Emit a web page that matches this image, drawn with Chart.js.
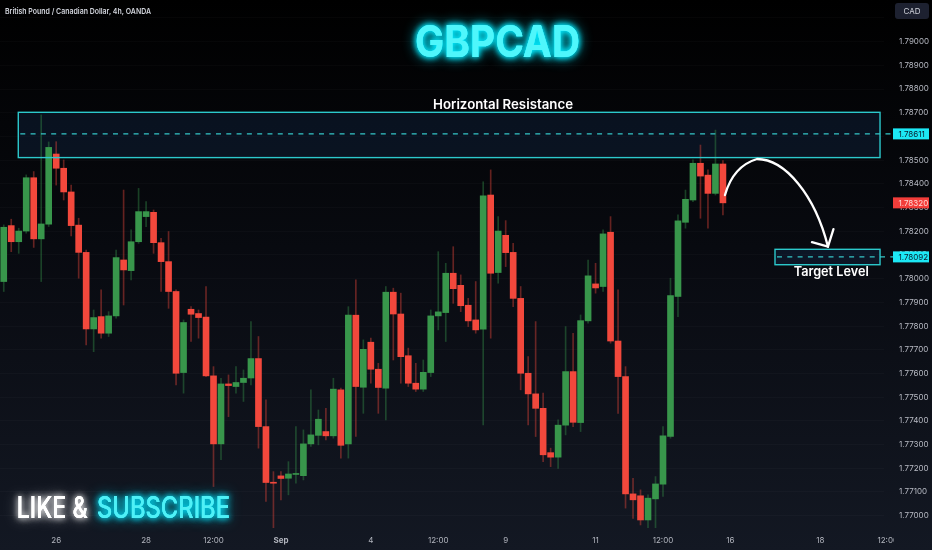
<!DOCTYPE html>
<html>
<head>
<meta charset="utf-8">
<title>GBPCAD 4h</title>
<script src="https://cdn.jsdelivr.net/npm/chart.js@4.4.1/dist/chart.umd.min.js"></script>
<style>
  html, body { margin: 0; padding: 0; background: #000; }
  #wrap { width: 932px; height: 550px; }
</style>
</head>
<body>
<div id="wrap"><canvas id="gbpcad" width="932" height="550"></canvas></div>
<script>
// GBPCAD 4h candles, 23 Aug - 13 Sep (OANDA)
const opens = [
  1.77988, 1.78224, 1.78156, 1.78201, 1.78426, 1.78168, 1.78230, 1.78526, 1.78466, 1.78366,
  1.78226, 1.78111, 1.77788, 1.77840, 1.77770, 1.77843, 1.78079, 1.78034, 1.78156, 1.78262,
  1.78280, 1.78152, 1.78072, 1.77946, 1.77604, 1.77871, 1.77853, 1.77838, 1.77590, 1.77303,
  1.77556, 1.77545, 1.77562, 1.77581, 1.77663, 1.77376, 1.77140, 1.77168, 1.77158, 1.77174,
  1.77169, 1.77303, 1.77339, 1.77355, 1.77337, 1.77531, 1.77303, 1.77846, 1.77542, 1.77732,
  1.77618, 1.77538, 1.77943, 1.77851, 1.77675, 1.77559, 1.77534, 1.77604, 1.77843, 1.77857,
  1.78023, 1.77972, 1.77888, 1.77826, 1.77787, 1.78353, 1.78026, 1.78183, 1.78111, 1.77917,
  1.77601, 1.77514, 1.77453, 1.77266, 1.77247, 1.77382, 1.77608, 1.77393, 1.77822, 1.77978,
  1.77967, 1.78196, 1.77737, 1.77587, 1.77092, 1.77084, 1.76982, 1.77071, 1.77133, 1.77334,
  1.77925, 1.78238, 1.78332, 1.78487, 1.78437, 1.78360, 1.78484
];
const highs = [
  1.78227, 1.78251, 1.78213, 1.78438, 1.78452, 1.78691, 1.78577, 1.78578, 1.78501, 1.78395,
  1.78255, 1.78121, 1.77868, 1.77953, 1.77861, 1.78121, 1.78374, 1.78206, 1.78381, 1.78325,
  1.78290, 1.78170, 1.78199, 1.77953, 1.77826, 1.77882, 1.77868, 1.77967, 1.77629, 1.77580,
  1.77594, 1.77629, 1.77615, 1.77819, 1.77756, 1.77489, 1.77186, 1.77186, 1.77228, 1.77376,
  1.77362, 1.77531, 1.77446, 1.77453, 1.77580, 1.77538, 1.77882, 1.77995, 1.77742, 1.77749,
  1.77643, 1.77967, 1.77960, 1.77939, 1.77707, 1.77643, 1.77657, 1.77868, 1.78114, 1.78065,
  1.78135, 1.78016, 1.77917, 1.77988, 1.78409, 1.78459, 1.78262, 1.78245, 1.78149, 1.77967,
  1.77671, 1.77819, 1.77517, 1.77285, 1.77404, 1.77798, 1.77770, 1.77847, 1.78079, 1.78065,
  1.78206, 1.78262, 1.77953, 1.77629, 1.77158, 1.77109, 1.77088, 1.77165, 1.77376, 1.78002,
  1.78269, 1.78374, 1.78501, 1.78564, 1.78459, 1.78627, 1.78498
];
const lows = [
  1.77946, 1.78114, 1.78107, 1.78192, 1.78132, 1.77988, 1.78220, 1.78395, 1.78332, 1.78180,
  1.78002, 1.77721, 1.77692, 1.77749, 1.77756, 1.77833, 1.77889, 1.77995, 1.78149, 1.78220,
  1.78107, 1.77946, 1.77875, 1.77552, 1.77517, 1.77735, 1.77749, 1.77587, 1.77123, 1.77236,
  1.77418, 1.77517, 1.77482, 1.77552, 1.77285, 1.77060, 1.76930, 1.77067, 1.77088, 1.77137,
  1.77151, 1.77292, 1.77299, 1.77320, 1.77327, 1.77243, 1.77243, 1.77334, 1.77432, 1.77559,
  1.77432, 1.77404, 1.77657, 1.77559, 1.77545, 1.77524, 1.77524, 1.77587, 1.77784, 1.77735,
  1.77896, 1.77861, 1.77798, 1.77770, 1.77383, 1.77749, 1.77981, 1.78051, 1.77882, 1.77531,
  1.77383, 1.77334, 1.77228, 1.77207, 1.77200, 1.77341, 1.77376, 1.77355, 1.77812, 1.77939,
  1.77946, 1.77728, 1.77432, 1.77032, 1.76989, 1.76961, 1.76947, 1.76940, 1.77081, 1.77327,
  1.77840, 1.78213, 1.78325, 1.78255, 1.78213, 1.78353, 1.78269
];
const closes = [
  1.78217, 1.78156, 1.78201, 1.78426, 1.78168, 1.78231, 1.78554, 1.78466, 1.78366, 1.78224,
  1.78111, 1.77788, 1.77836, 1.77770, 1.77843, 1.78089, 1.78037, 1.78156, 1.78283, 1.78283,
  1.78152, 1.78072, 1.77946, 1.77601, 1.77815, 1.77850, 1.77836, 1.77590, 1.77303, 1.77556,
  1.77549, 1.77562, 1.77580, 1.77663, 1.77376, 1.77140, 1.77137, 1.77157, 1.77176, 1.77178,
  1.77303, 1.77341, 1.77407, 1.77337, 1.77534, 1.77297, 1.77846, 1.77545, 1.77702, 1.77618,
  1.77541, 1.77943, 1.77851, 1.77671, 1.77559, 1.77534, 1.77605, 1.77843, 1.77860, 1.78023,
  1.77958, 1.77886, 1.77822, 1.77784, 1.78350, 1.78023, 1.78201, 1.78110, 1.77917, 1.77601,
  1.77514, 1.77453, 1.77257, 1.77247, 1.77382, 1.77608, 1.77394, 1.77823, 1.78012, 1.77961,
  1.78189, 1.77737, 1.77587, 1.77092, 1.77067, 1.76982, 1.77074, 1.77134, 1.77337, 1.77929,
  1.78244, 1.78335, 1.78487, 1.78433, 1.78360, 1.78484, 1.78320
];

// time axis: slot index -> label (empty slots to the right are future bars)
const totalSlots = 118;
const timeTickSlots = [7, 19, 28, 37, 49, 58, 67, 79, 88, 97, 109, 118];
const timeTickTexts = ['26', '28', '12:00', 'Sep', '4', '12:00', '9', '11', '12:00', '16', '18', '12:00'];

// levels drawn on the chart
const resistanceTop = 1.78702;
const resistanceBottom = 1.78511;
const resistanceLevel = 1.78611;
const targetTop = 1.78124;
const targetBottom = 1.78059;
const targetLevel = 1.78092;
const lastPrice = 1.78320;

// price scale
const priceMax = 1.791759;
const priceMin = 1.769481;
const priceStep = 0.001;
const highestPriceLabel = 1.79;

const UP = '#38964b';
const DOWN = '#f2483c';

const slotLabels = [];
for (let i = 0; i < totalSlots; i++) {
  const k = timeTickSlots.indexOf(i);
  slotLabels.push(k >= 0 ? timeTickTexts[k] : '');
}

const isUp = opens.map((o, i) => closes[i] >= o);

// text fitted to a width and a cap height
function drawText(ctx, str, left, baseline, width, capH, weight, color, glow) {
  const size = capH / 0.727;
  ctx.save();
  ctx.font = weight + ' ' + size + 'px Inter';
  const w = ctx.measureText(str).width;
  ctx.translate(left, baseline);
  ctx.scale(width / w, 1);
  ctx.textAlign = 'left';
  ctx.textBaseline = 'alphabetic';
  ctx.fillStyle = color;
  if (glow) {
    ctx.shadowColor = glow;
    ctx.shadowBlur = 14;
    ctx.fillText(str, 0, 0);
    ctx.shadowBlur = 6;
    ctx.fillText(str, 0, 0);
  }
  ctx.fillText(str, 0, 0);
  ctx.restore();
}

function badge(ctx, text, yPix, bg, fg) {
  ctx.save();
  ctx.fillStyle = bg;
  ctx.fillRect(893, yPix - 5.5, 36, 11);
  ctx.fillStyle = fg;
  ctx.font = '8px Inter';
  ctx.textAlign = 'left';
  ctx.textBaseline = 'middle';
  ctx.fillText(text, 898.5, yPix + 0.5);
  ctx.restore();
}

const overlay = {
  id: 'overlay',
  beforeDraw(chart) {
    const { ctx, width, height } = chart;
    const g = ctx.createLinearGradient(0, 0, 0, height);
    g.addColorStop(0, '#000000');
    g.addColorStop(0.45, '#080a10');
    g.addColorStop(1, '#131823');
    ctx.save();
    ctx.fillStyle = g;
    ctx.fillRect(0, 0, width, height);
    ctx.restore();
  },
  beforeDatasetsDraw(chart) {
    const { ctx, scales: { x, y } } = chart;
    const step = x.getPixelForValue(1) - x.getPixelForValue(0);
    const px = i => x.getPixelForValue(0) + i * step;
    ctx.save();
    ctx.fillStyle = 'rgba(22, 48, 84, 0.32)';
    const rl = px(1.94), rr = px(116.97);
    ctx.fillRect(rl, y.getPixelForValue(resistanceTop), rr - rl, y.getPixelForValue(resistanceBottom) - y.getPixelForValue(resistanceTop));
    const tl = px(102.95);
    ctx.fillRect(tl, y.getPixelForValue(targetTop), rr - tl, y.getPixelForValue(targetBottom) - y.getPixelForValue(targetTop));
    ctx.restore();
  },
  afterDraw(chart) {
    const { ctx, scales: { x, y } } = chart;
    const step = x.getPixelForValue(1) - x.getPixelForValue(0);
    const px = i => x.getPixelForValue(0) + i * step;
    const rl = px(1.94), rr = px(116.97), tl = px(102.95);

    ctx.save();
    // boxes
    ctx.strokeStyle = '#2cc9cc';
    ctx.lineWidth = 1.4;
    const rt = y.getPixelForValue(resistanceTop), rb = y.getPixelForValue(resistanceBottom);
    ctx.strokeRect(rl, rt, rr - rl, rb - rt);
    const tt = y.getPixelForValue(targetTop), tb = y.getPixelForValue(targetBottom);
    ctx.strokeRect(tl, tt, rr - tl, tb - tt);

    // dashed levels
    ctx.setLineDash([5, 5.3]);
    ctx.strokeStyle = '#34c6c8';
    ctx.lineWidth = 1.3;
    const ry = y.getPixelForValue(resistanceLevel);
    ctx.beginPath(); ctx.moveTo(rl + 2, ry); ctx.lineTo(893, ry); ctx.stroke();
    const ty = y.getPixelForValue(targetLevel);
    ctx.beginPath(); ctx.moveTo(tl + 2, ty); ctx.lineTo(893, ty); ctx.stroke();
    ctx.setLineDash([]);

    // projected path arrow
    ctx.strokeStyle = '#ffffff';
    ctx.lineWidth = 2.3;
    ctx.lineCap = 'round';
    const P = (i, v) => [px(i), y.getPixelForValue(v)];
    const s = P(96.27, 1.78353), c0 = P(97.37, 1.78475), pk = P(100.55, 1.78505);
    const c1 = P(104.28, 1.78505), c2 = P(108.29, 1.78353), e = P(110.02, 1.78135);
    ctx.beginPath();
    ctx.moveTo(s[0], s[1]);
    ctx.quadraticCurveTo(c0[0], c0[1], pk[0], pk[1]);
    ctx.bezierCurveTo(c1[0], c1[1], c2[0], c2[1], e[0], e[1]);
    ctx.stroke();
    ctx.beginPath();
    ctx.moveTo(e[0] - 16, e[1] - 4.5);
    ctx.lineTo(e[0], e[1]);
    ctx.lineTo(e[0] + 5.5, e[1] - 17.5);
    ctx.stroke();
    ctx.restore();

    // labels
    drawText(ctx, 'Horizontal Resistance', px(57.3), rt - 3.5, 140, 9.6, '600', '#ffffff');
    drawText(ctx, 'Target Level', px(105.45), tb + 11.5, 75, 9.6, '600', '#ffffff');
    drawText(ctx, 'GBPCAD', 415, 57, 165, 32, '700', '#4ff6fb', 'rgba(0, 235, 255, 0.95)');
    drawText(ctx, 'LIKE &', 16.7, 518, 71, 21.6, '500', '#ffffff', 'rgba(255, 255, 255, 0.7)');
    drawText(ctx, 'SUBSCRIBE', 97, 518, 133, 21.6, '500', '#4ff0f6', 'rgba(0, 230, 255, 0.9)');
    drawText(ctx, 'British Pound / Canadian Dollar, 4h, OANDA', 5, 14, 146, 5.8, '600', '#d1d4dc');

    // currency button
    ctx.save();
    ctx.fillStyle = '#1d2130';
    ctx.beginPath();
    ctx.roundRect(895, 3, 34, 16, 3);
    ctx.fill();
    ctx.fillStyle = '#d1d4dc';
    ctx.font = '8px Inter';
    ctx.textAlign = 'center';
    ctx.textBaseline = 'middle';
    ctx.fillText('CAD', 912, 11.5);
    ctx.restore();

    // price badges
    badge(ctx, resistanceLevel.toFixed(5), ry, '#1ce8f5', '#0a1a2c');
    badge(ctx, targetLevel.toFixed(5), ty, '#1ce8f5', '#0a1a2c');
    badge(ctx, lastPrice.toFixed(5), y.getPixelForValue(lastPrice), '#f23d3a', '#ffd9d6');

    // last time label, cut by the price scale
    const k = timeTickSlots.length - 1;
    if (timeTickSlots[k] >= totalSlots) {
      ctx.save();
      ctx.beginPath();
      ctx.rect(0, 528, 894, 22);
      ctx.clip();
      ctx.fillStyle = '#b2b5be';
      ctx.font = '8px Inter';
      ctx.textAlign = 'center';
      ctx.textBaseline = 'middle';
      ctx.fillText(timeTickTexts[k], px(timeTickSlots[k]), 541);
      ctx.restore();
    }
  }
};

new Chart(document.getElementById('gbpcad'), {
  type: 'bar',
  data: {
    labels: slotLabels,
    datasets: [
      {
        label: 'body',
        data: opens.map((o, i) => [o, closes[i]]),
        backgroundColor: isUp.map(u => u ? UP : DOWN),
        barThickness: 6,
        minBarLength: 1,
        grouped: false,
        order: 1
      },
      {
        label: 'wick',
        data: lows.map((l, i) => [l, highs[i]]),
        backgroundColor: isUp.map(u => u ? 'rgba(56,150,75,0.4)' : 'rgba(242,72,60,0.4)'),
        barThickness: 1,
        grouped: false,
        order: 2
      }
    ]
  },
  options: {
    responsive: false,
    animation: false,
    events: [],
    layout: { padding: 0 },
    plugins: { legend: { display: false }, tooltip: { enabled: false } },
    scales: {
      x: {
        type: 'category',
        offset: true,
        grid: { display: false, drawTicks: false },
        border: { display: false },
        ticks: {
          autoSkip: false,
          maxRotation: 0,
          padding: 8,
          color: '#b2b5be',
          font: ctx => ({ family: 'Inter', size: 8, weight: slotLabels[ctx.index] === 'Sep' ? '700' : '400' }),
          callback: (v, i) => slotLabels[i]
        },
        afterFit: s => { s.height = 22; s.paddingLeft = 0; s.paddingRight = 0; }
      },
      y: {
        position: 'right',
        min: priceMin,
        max: priceMax,
        grid: { color: 'rgba(255,255,255,0.025)', drawTicks: false },
        border: { display: false },
        ticks: {
          stepSize: priceStep,
          includeBounds: false,
          padding: 15,
          color: '#b8bbc4',
          font: { family: 'Inter', size: 8 },
          callback: v => (v > highestPriceLabel + 1e-6 ? '' : v.toFixed(5))
        },
        afterFit: s => { s.width = 48; s.paddingTop = 0; s.paddingBottom = 0; }
      }
    }
  },
  plugins: [overlay]
});
</script>
</body>
</html>
